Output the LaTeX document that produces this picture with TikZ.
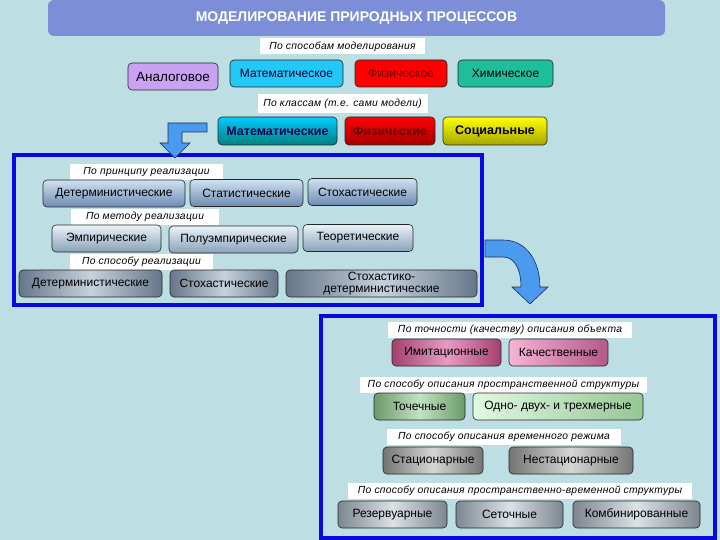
\documentclass[tikz,border=0pt]{standalone}
\usepackage{fontspec}
\setmainfont{Liberation Sans}
\usepackage{xcolor}
\usepackage{tikz}
\definecolor{bg}{HTML}{BDDFE3}
\definecolor{titlebar}{HTML}{7C8ED8}
\definecolor{frameblue}{HTML}{0808E0}
\definecolor{arrowfill}{HTML}{4A9AF0}
\definecolor{arrowline}{HTML}{1C2C5C}
\definecolor{lilac}{HTML}{C9A2F4}
\definecolor{skyc}{HTML}{22C8F6}
\definecolor{tealc}{HTML}{1CBE9C}
\definecolor{stA1}{HTML}{D0E2F2}
\definecolor{stA2}{HTML}{6C8AB2}
\definecolor{stB1}{HTML}{EAF2F8}
\definecolor{stB2}{HTML}{88A2B8}
\definecolor{stC1}{HTML}{66768A}
\definecolor{stC2}{HTML}{C6D2DC}
\definecolor{pkA1}{HTML}{A2406E}
\definecolor{pkA2}{HTML}{E89CC2}
\definecolor{pkB1}{HTML}{F6B4D4}
\definecolor{pkB2}{HTML}{B45888}
\definecolor{grA1}{HTML}{6C9A6C}
\definecolor{grA2}{HTML}{C2E2C2}
\definecolor{grB1}{HTML}{E2F8E2}
\definecolor{grB2}{HTML}{96C696}
\definecolor{gyA1}{HTML}{747474}
\definecolor{gyA2}{HTML}{D6D6D6}
\definecolor{gyB1}{HTML}{7C868E}
\definecolor{gyB2}{HTML}{DCE2E6}
\tikzset{
  cls/.style={rectangle,rounded corners=4pt,draw=black!85,line width=0.6pt,
    minimum height=27pt,inner sep=1pt,align=center,
    font=\fontsize{12}{13}\selectfont},
  big/.style={cls,font=\bfseries\fontsize{12.5}{14}\selectfont},
  lbl/.style={fill=white,inner sep=0pt,minimum height=16pt,
    font=\itshape\fontsize{10.3}{11}\selectfont\addfontfeature{LetterSpace=3}},
  frm/.style={draw=frameblue,line width=4pt},
  barrow/.style={fill=arrowfill,draw=arrowline,line width=0.6pt},
  steelA/.style={cls,top color=stA1,bottom color=stA2},
  steelB/.style={cls,top color=stB1,bottom color=stB2},
  steelC/.style={cls,left color=stC1,right color=stC1,middle color=stC2},
  pinkA/.style={cls,left color=pkA1,right color=pkA1,middle color=pkA2},
  pinkB/.style={cls,left color=pkB1,right color=pkB2},
  greenA/.style={cls,left color=grA1,right color=grA1,middle color=grA2},
  greenB/.style={cls,left color=grB1,right color=grB2},
  greyA/.style={cls,left color=gyA1,right color=gyA1,middle color=gyA2},
  greyB/.style={cls,left color=gyB1,right color=gyB1,middle color=gyB2},
}

\begin{document}
\begin{tikzpicture}[x=1pt,y=-1pt]
  \useasboundingbox (0,0) rectangle (720,540);
  \fill[bg] (0,0) rectangle (720,540);
  \node[fill=titlebar,rounded corners=6pt,minimum width=617pt,minimum height=36pt,
    text=white,font=\bfseries\fontsize{14}{16}\selectfont] (title) at (356.5,18)
    {МОДЕЛИРОВАНИЕ ПРИРОДНЫХ ПРОЦЕССОВ};

  \node[lbl,minimum width=165pt] (bymode) at (342.5,46.5) {По способам моделирования};
  \node[cls,fill=lilac,minimum width=90pt,font=\fontsize{13.5}{15}\selectfont] (analog) at (173,76.5) {Аналоговое};
  \node[cls,fill=skyc,minimum width=113pt,text=black!80!blue] (mathm) at (286.5,73.5) {Математическое};
  \node[cls,fill=red,minimum width=92pt,text=red!45!black] (physm) at (401,73.5) {Физическое};
  \node[cls,fill=tealc,minimum width=95pt] (chemm) at (505.5,73.5) {Химическое};

  \node[lbl,minimum width=170pt,minimum height=19pt] (byclass) at (342.5,103.5) {По классам (т.е. сами модели)};
  \node[big,top color=cyan!80!blue,bottom color=cyan!50!black,minimum width=119pt,
    minimum height=28pt,text=blue!30!black] (mathc) at (277.5,131) {Математические};
  \node[big,top color=red,bottom color=red!65!black,minimum width=90pt,
    minimum height=28pt,text=red!40!black] (physc) at (390,131) {Физические};
  \node[big,top color=yellow,bottom color=yellow!65!black,minimum width=104pt,
    minimum height=28pt] (socc) at (495,131) {Социальные};

  \draw[frm] (13.5,155.5) rectangle (481.5,304.5);
  \draw[barrow] (207,123) -- (168,123) -- (168,143) -- (160,143) -- (175,158)
    -- (190,143) -- (182,143) -- (182,132) -- (207,132) -- cycle;

  \node[lbl,minimum width=153pt] (byprinc) at (146.5,172.5) {По принципу реализации};
  \node[steelA,minimum width=142pt] (det1) at (114,193.5) {Детерминистические};
  \node[steelA,minimum width=113pt] (stat1) at (246.5,193) {Статистические};
  \node[steelA,minimum width=109pt] (stoch1) at (362.5,192) {Стохастические};

  \node[lbl,minimum width=148pt] (bymeth) at (145,217) {По методу реализации};
  \node[steelB,minimum width=109pt] (emp) at (106.5,238.5) {Эмпирические};
  \node[steelB,minimum width=129pt] (semi) at (233.5,239.5) {Полуэмпирические};
  \node[steelB,minimum width=110pt] (theor) at (358,238) {Теоретические};

  \node[lbl,minimum width=143pt] (byway) at (141.5,261.5) {По способу реализации};
  \node[steelC,minimum width=143pt] (det2) at (90.5,283.5) {Детерминистические};
  \node[steelC,minimum width=108pt] (stoch2) at (224,283.5) {Стохастические};
  \node[steelC,minimum width=191pt,minimum height=27pt,inner sep=0pt,
    font=\fontsize{12}{12.5}\selectfont] (stdet) at (381.5,283.5) {Стохастико-\\детерминистические};

  \draw[barrow] (485,240) -- (503,240) .. controls (527,240) and (540,262) .. (540,287)
    -- (548,287) -- (530,304) -- (512,287) -- (521,287)
    .. controls (521,270) and (515,257) .. (503,257) -- (485,257) -- cycle;

  \draw[frm] (320.5,315.5) rectangle (714.5,537.5);

  \node[lbl,minimum width=244pt] (byprec) at (510,330) {По точности (качеству) описания объекта};
  \node[pinkA,minimum width=109pt] (imit) at (446.5,352.5) {Имитационные};
  \node[pinkB,minimum width=99pt] (qual) at (558.5,352.5) {Качественные};

  \node[lbl,minimum width=287pt] (byspace) at (503.5,385) {По способу описания пространственной структуры};
  \node[greenA,minimum width=91pt] (point) at (419.5,406.5) {Точечные};
  \node[greenB,minimum width=170pt] (multi) at (558,406.5) {Одно- двух- и трехмерные};

  \node[lbl,minimum width=234pt] (bytime) at (504,437) {По способу описания временного режима};
  \node[greyA,minimum width=100pt] (stat2) at (433,460.5) {Стационарные};
  \node[greyA,minimum width=124pt] (nonstat) at (571,460.5) {Нестационарные};

  \node[lbl,minimum width=344pt] (byspt) at (520,490.5) {По способу описания пространственно-временной структуры};
  \node[greyB,minimum width=109pt] (resv) at (392.5,514.5) {Резервуарные};
  \node[greyB,minimum width=107pt] (grid) at (509.5,514.5) {Сеточные};
  \node[greyB,minimum width=127pt] (comb) at (636.5,514.5) {Комбинированные};
\end{tikzpicture}
\end{document}
